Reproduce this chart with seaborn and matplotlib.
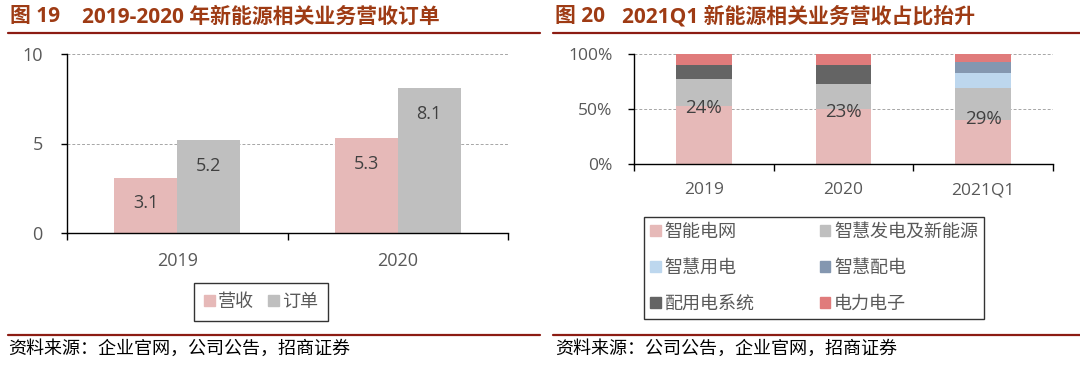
"""
新能源相关业务营收订单 / 营收占比
"""

import numpy as np
import pandas as pd
import seaborn as sns
import matplotlib as mpl
import matplotlib.pyplot as plt
from matplotlib.patches import Patch
from matplotlib.lines import Line2D

# -------------------------
# Data
# -------------------------
years = ['2019', '2020']
revenue = [3.1, 5.3]          # 营收
orders = [5.2, 8.1]           # 订单
left_series = ['营收', '订单']

periods = ['2019', '2020', '2021Q1']
segments = ['智能电网', '智慧发电及新能源', '智慧用电', '智慧配电', '配用电系统', '电力电子']
smart_grid = [0.53, 0.50, 0.40]
smart_gen = [0.24, 0.23, 0.29]
smart_use = [0.00, 0.00, 0.14]
smart_dist = [0.00, 0.00, 0.10]
dist_system = [0.13, 0.17, 0.00]
power_elec = [0.10, 0.10, 0.07]

# -------------------------
# Configuration
# -------------------------
sns.set_theme(style="white")
plt.rcParams['font.family'] = ['Open Sans', 'Noto Sans CJK SC', 'DejaVu Sans']
plt.rcParams['axes.unicode_minus'] = False

c_pink = '#E6B9B8'
c_gray = '#BFBFBF'
c_lblue = '#BDD7EE'
c_bgray = '#8497B0'
c_dgray = '#646464'
c_red = '#E07B7B'
seg_colors = [c_pink, c_gray, c_lblue, c_bgray, c_dgray, c_red]

title_color = '#9E3B14'
rule_color = '#8C1C13'
tick_color = '#595959'
label_color = '#404040'

W, H = 1080, 377
fig = plt.figure(figsize=(W / 100, H / 100), dpi=100)


def fbox(x0, y0, x1, y1):
    """pixel box (top-left origin) -> figure fraction rect"""
    return [x0 / W, 1 - y1 / H, (x1 - x0) / W, (y1 - y0) / H]


def style_axes(ax, size):
    for s in ['top', 'right']:
        ax.spines[s].set_visible(False)
    for s in ['left', 'bottom']:
        ax.spines[s].set_color('black')
        ax.spines[s].set_linewidth(1.0)
    ax.set_xlabel('')
    ax.set_ylabel('')
    ax.yaxis.grid(True, linestyle=(0, (3, 2)), color='#A6A6A6', linewidth=0.7)
    ax.xaxis.grid(False)
    ax.set_axisbelow(True)
    ax.tick_params(axis='x', which='major', length=0, pad=14,
                   labelsize=size, labelcolor=tick_color)
    ax.tick_params(axis='x', which='minor', length=5, width=1,
                   color='black', direction='out', bottom=True)
    ax.tick_params(axis='y', length=4.5, width=1, color='black',
                   direction='out', left=True, labelsize=size,
                   labelcolor=tick_color)


# -------------------------------------------
# Left: 营收 / 订单
# -------------------------------------------
ax1 = fig.add_axes(fbox(67, 54, 508, 233))

df_left = pd.DataFrame({
    'year': years * 2,
    'value': revenue + orders,
    'series': [left_series[0]] * 2 + [left_series[1]] * 2,
})

sns.barplot(data=df_left, x='year', y='value', hue='series',
            hue_order=left_series, palette=[c_pink, c_gray],
            width=0.57, saturation=1, linewidth=0, legend=False, ax=ax1)

ax1.set_ylim(0, 10)
ax1.set_yticks([0, 5, 10])
ax1.set_xlim(-0.5, 1.5)
ax1.set_xticks([-0.5, 0.5, 1.5], minor=True)
style_axes(ax1, 13)
ax1.tick_params(axis='y', pad=13)

for cont in ax1.containers:
    for bar in cont:
        h = bar.get_height()
        ax1.annotate('%.1f' % h, (bar.get_x() + bar.get_width() / 2, h),
                     xytext=(0, -18.5), textcoords='offset points',
                     ha='center', va='center', fontsize=13, color=label_color)

leg1 = ax1.legend(handles=[Patch(color=c) for c in [c_pink, c_gray]],
                  labels=left_series, ncol=2, loc='center',
                  bbox_to_anchor=(261 / W, 1 - 302 / H),
                  bbox_transform=fig.transFigure, fontsize=13,
                  frameon=True, fancybox=False, handlelength=0.6,
                  handleheight=0.6, handletextpad=0.15, columnspacing=0.8,
                  borderpad=0.55, labelcolor=tick_color)
leg1.get_frame().set_edgecolor('black')
leg1.get_frame().set_linewidth(1.0)

# -------------------------------------------
# Right: 营收占比 (stacked)
# -------------------------------------------
ax2 = fig.add_axes(fbox(634, 54, 1053, 164))

layers = np.array([smart_grid, smart_gen, smart_use,
                   smart_dist, dist_system, power_elec])
cum = np.cumsum(layers, axis=0)

# Draw cumulative bars from top layer down so lower layers cover them
for i in range(len(segments) - 1, -1, -1):
    sns.barplot(x=periods, y=cum[i], color=seg_colors[i], width=0.4,
                saturation=1, linewidth=0, ax=ax2)

ax2.set_ylim(0, 1)
ax2.set_yticks([0, 0.5, 1.0])
ax2.yaxis.set_major_formatter(mpl.ticker.PercentFormatter(1.0, decimals=0))
ax2.set_xlim(-0.5, 2.5)
ax2.set_xticks([-0.5, 0.5, 1.5, 2.5], minor=True)
style_axes(ax2, 12.5)
ax2.tick_params(axis='x', which='major', pad=13)
ax2.tick_params(axis='y', pad=11)

for j, p in enumerate(periods):
    mid = cum[0][j] + smart_gen[j] / 2
    ax2.annotate('%d%%' % round(smart_gen[j] * 100), (j, mid),
                 xytext=(0, -11), textcoords='offset points',
                 ha='center', va='center', fontsize=13.5, color=label_color)

order = [0, 2, 4, 1, 3, 5]
leg2 = ax2.legend(handles=[Patch(color=seg_colors[k]) for k in order],
                  labels=[segments[k] for k in order], ncol=2, loc='center',
                  bbox_to_anchor=(814 / W, 1 - 268 / H),
                  bbox_transform=fig.transFigure, fontsize=13,
                  frameon=True, fancybox=False, handlelength=0.6,
                  handleheight=0.6, handletextpad=0.2, columnspacing=3.6,
                  labelspacing=1.0, borderpad=0.35, labelcolor=tick_color)
leg2.get_frame().set_edgecolor('black')
leg2.get_frame().set_linewidth(1.0)

# -------------------------------------------
# Titles, rules, sources
# -------------------------------------------
tkw = dict(fontsize=15, fontweight='bold', color=title_color, va='center')
fig.text(10 / W, 1 - 17 / H, '图 19', **tkw)
fig.text(82 / W, 1 - 17 / H, '2019-2020 年新能源相关业务营收订单', **tkw)
fig.text(555 / W, 1 - 17 / H, '图 20', **tkw)
fig.text(622 / W, 1 - 17 / H, '2021Q1 新能源相关业务营收占比抬升', **tkw)

for x0, x1 in [(8, 540), (553, 1080)]:
    for y in [33, 335]:
        fig.add_artist(Line2D([x0 / W, x1 / W], [1 - y / H, 1 - y / H],
                              color=rule_color, linewidth=1.6))

skw = dict(fontsize=13, color='black', va='center')
fig.text(8 / W, 1 - 349 / H, '资料来源：企业官网，公司公告，招商证券', **skw)
fig.text(555 / W, 1 - 349 / H, '资料来源：公司公告，企业官网，招商证券', **skw)

fig.savefig('out.png', dpi=100)
